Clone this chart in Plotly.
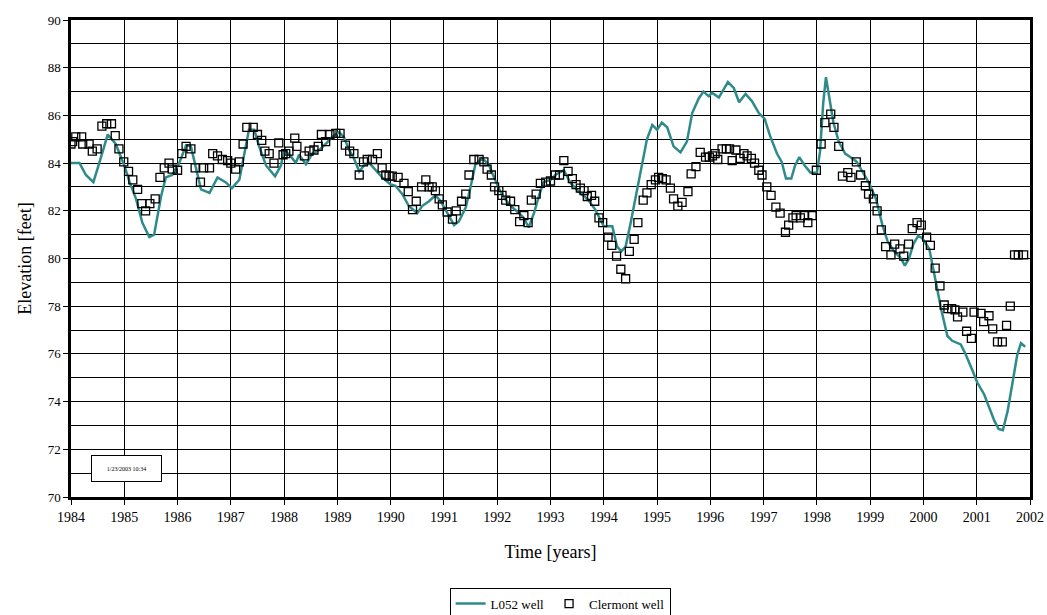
import plotly.graph_objects as go

# L052 well water level (decimal year, elevation in feet)
l052_year = [
    1984.00, 1984.16, 1984.28, 1984.42, 1984.53, 1984.69, 1984.84, 1985.00, 1985.10, 1985.22,
    1985.34, 1985.47, 1985.56, 1985.69, 1985.78, 1985.90, 1986.03, 1986.16, 1986.25, 1986.34,
    1986.44, 1986.60, 1986.75, 1986.90, 1987.02, 1987.16, 1987.25, 1987.34, 1987.44, 1987.53,
    1987.66, 1987.83, 1987.94, 1988.00, 1988.12, 1988.22, 1988.28, 1988.41, 1988.53, 1988.66,
    1988.78, 1988.90, 1989.03, 1989.12, 1989.22, 1989.31, 1989.41, 1989.50, 1989.60, 1989.72,
    1989.84, 1990.00, 1990.09, 1990.22, 1990.34, 1990.50, 1990.59, 1990.72, 1990.84, 1990.94,
    1991.06, 1991.19, 1991.28, 1991.41, 1991.50, 1991.59, 1991.72, 1991.84, 1991.94, 1992.06,
    1992.16, 1992.28, 1992.41, 1992.50, 1992.59, 1992.69, 1992.78, 1992.87, 1993.00, 1993.09,
    1993.25, 1993.38, 1993.53, 1993.69, 1993.84, 1994.00, 1994.16, 1994.25, 1994.33, 1994.41,
    1994.50, 1994.59, 1994.72, 1994.81, 1994.91, 1995.00, 1995.09, 1995.19, 1995.31, 1995.44,
    1995.56, 1995.66, 1995.78, 1995.87, 1995.97, 1996.03, 1996.16, 1996.25, 1996.33, 1996.44,
    1996.54, 1996.66, 1996.78, 1996.91, 1997.02, 1997.12, 1997.25, 1997.34, 1997.42, 1997.52,
    1997.59, 1997.67, 1997.77, 1997.88, 1998.00, 1998.06, 1998.12, 1998.17, 1998.22, 1998.31,
    1998.41, 1998.53, 1998.66, 1998.75, 1998.84, 1998.97, 1999.11, 1999.23, 1999.33, 1999.45,
    1999.58, 1999.65, 1999.73, 1999.81, 1999.90, 1999.98, 2000.11, 2000.23, 2000.34, 2000.45,
    2000.54, 2000.70, 2000.79, 2000.92, 2001.01, 2001.14, 2001.23, 2001.33, 2001.41, 2001.49,
    2001.58, 2001.68, 2001.76, 2001.83, 2001.91,
]
l052_elev = [
    84.0, 84.0, 83.5, 83.2, 84.0, 85.2, 84.8, 83.9, 83.2, 82.5,
    81.5, 80.9, 81.0, 82.6, 83.4, 83.5, 84.0, 84.75, 84.7, 83.85,
    82.9, 82.75, 83.4, 83.2, 82.95, 83.3, 84.3, 85.4, 85.4, 84.7,
    83.9, 83.45, 83.9, 84.55, 84.3, 84.0, 84.35, 83.95, 84.4, 84.55,
    84.8, 85.1, 85.3, 85.1, 84.55, 84.2, 83.65, 83.9, 84.0, 83.7,
    83.4, 83.1, 83.05, 82.7, 82.2, 81.9, 82.2, 82.4, 82.65, 82.4,
    81.9, 81.4, 81.55, 82.15, 83.0, 83.95, 84.2, 83.95, 83.4, 82.8,
    82.45, 82.15, 81.9, 81.7, 81.3, 81.9, 82.6, 83.2, 83.3, 83.5,
    83.7, 83.15, 82.8, 82.5, 82.05, 81.35, 81.35, 80.5, 80.3, 80.5,
    81.45, 82.5, 83.9, 85.0, 85.6, 85.4, 85.7, 85.5, 84.7, 84.45,
    84.9, 86.1, 86.7, 87.0, 86.8, 86.95, 86.75, 87.1, 87.4, 87.15,
    86.55, 86.9, 86.6, 86.1, 85.85, 85.15, 84.4, 84.05, 83.35, 83.35,
    83.9, 84.25, 83.9, 83.6, 83.6, 84.5, 86.55, 87.6, 86.95, 85.7,
    84.9, 84.4, 84.2, 84.05, 83.7, 83.2, 82.5, 81.4, 80.7, 80.3,
    80.0, 79.7, 80.0, 80.6, 80.95, 80.85, 80.4, 79.0, 77.8, 76.75,
    76.55, 76.4, 76.0, 75.3, 74.8, 74.3, 73.8, 73.2, 72.85, 72.8,
    73.6, 74.85, 75.95, 76.45, 76.3,
]

# Clermont well observations (decimal year, elevation in feet)
clermont_year = [
    1984.00, 1984.03, 1984.09, 1984.20, 1984.22, 1984.34, 1984.40, 1984.49, 1984.58, 1984.67,
    1984.76, 1984.83, 1984.90, 1984.99, 1985.08, 1985.16, 1985.25, 1985.33, 1985.40, 1985.48,
    1985.58, 1985.67, 1985.75, 1985.84, 1985.90, 1986.00, 1986.08, 1986.16, 1986.25, 1986.33,
    1986.43, 1986.49, 1986.60, 1986.66, 1986.75, 1986.84, 1986.94, 1987.00, 1987.09, 1987.16,
    1987.23, 1987.30, 1987.42, 1987.50, 1987.58, 1987.64, 1987.72, 1987.81, 1987.90, 1987.98,
    1988.03, 1988.09, 1988.20, 1988.24, 1988.38, 1988.47, 1988.56, 1988.64, 1988.70, 1988.78,
    1988.86, 1988.97, 1989.05, 1989.15, 1989.23, 1989.31, 1989.41, 1989.49, 1989.56, 1989.66,
    1989.75, 1989.84, 1989.91, 1989.97, 1990.03, 1990.14, 1990.25, 1990.33, 1990.41, 1990.48,
    1990.58, 1990.66, 1990.72, 1990.78, 1990.84, 1990.91, 1990.97, 1991.06, 1991.16, 1991.23,
    1991.33, 1991.41, 1991.47, 1991.56, 1991.66, 1991.75, 1991.81, 1991.89, 1991.95, 1992.03,
    1992.09, 1992.16, 1992.25, 1992.33, 1992.42, 1992.50, 1992.58, 1992.64, 1992.73, 1992.81,
    1992.91, 1993.00, 1993.09, 1993.17, 1993.25, 1993.33, 1993.41, 1993.48, 1993.56, 1993.63,
    1993.69, 1993.77, 1993.83, 1993.91, 1993.98, 1994.08, 1994.15, 1994.24, 1994.32, 1994.41,
    1994.48, 1994.57, 1994.64, 1994.74, 1994.81, 1994.89, 1994.97, 1995.03, 1995.10, 1995.17,
    1995.25, 1995.31, 1995.39, 1995.47, 1995.58, 1995.64, 1995.73, 1995.81, 1995.91, 1995.98,
    1996.04, 1996.09, 1996.14, 1996.22, 1996.30, 1996.36, 1996.41, 1996.48, 1996.56, 1996.63,
    1996.69, 1996.77, 1996.83, 1996.91, 1996.97, 1997.06, 1997.14, 1997.23, 1997.31, 1997.41,
    1997.47, 1997.55, 1997.61, 1997.69, 1997.77, 1997.83, 1997.91, 1997.99, 1998.08, 1998.15,
    1998.26, 1998.32, 1998.41, 1998.48, 1998.58, 1998.64, 1998.74, 1998.82, 1998.91, 1998.97,
    1999.06, 1999.13, 1999.21, 1999.29, 1999.39, 1999.46, 1999.56, 1999.63, 1999.72, 1999.79,
    1999.88, 1999.96, 2000.06, 2000.13, 2000.22, 2000.31, 2000.39, 2000.46, 2000.53, 2000.59,
    2000.64, 2000.74, 2000.81, 2000.90, 2000.95, 2001.08, 2001.13, 2001.23, 2001.30, 2001.39,
    2001.48, 2001.56, 2001.63, 2001.71, 2001.78, 2001.88,
]
clermont_elev = [
    84.8, 84.9, 85.1, 85.1, 84.8, 84.8, 84.5, 84.6, 85.55, 85.65,
    85.65, 85.15, 84.6, 84.05, 83.65, 83.3, 82.9, 82.3, 82.0, 82.3,
    82.5, 83.4, 83.8, 84.0, 83.75, 83.7, 84.4, 84.7, 84.6, 83.8,
    83.2, 83.8, 83.8, 84.4, 84.3, 84.15, 84.1, 84.0, 83.75, 84.05,
    84.8, 85.5, 85.5, 85.2, 84.95, 84.5, 84.4, 84.0, 84.85, 84.35,
    84.4, 84.5, 85.05, 84.7, 84.3, 84.5, 84.55, 84.7, 85.2, 84.9,
    85.2, 85.25, 85.25, 84.75, 84.5, 84.4, 83.5, 84.05, 84.15, 84.15,
    84.4, 83.8, 83.5, 83.45, 83.45, 83.4, 83.15, 82.8, 82.05, 82.4,
    83.0, 83.3, 83.0, 83.0, 82.85, 82.5, 82.25, 81.95, 81.65, 82.0,
    82.4, 82.7, 83.5, 84.15, 84.15, 84.05, 83.75, 83.5, 83.0, 82.85,
    82.65, 82.45, 82.4, 82.05, 81.55, 81.8, 81.5, 82.45, 82.7, 83.15,
    83.2, 83.25, 83.5, 83.5, 84.1, 83.65, 83.35, 83.1, 82.95, 82.85,
    82.6, 82.65, 82.4, 81.7, 81.5, 80.9, 80.55, 80.1, 79.55, 79.15,
    80.3, 80.8, 81.5, 82.45, 82.75, 83.1, 83.3, 83.4, 83.35, 83.3,
    82.95, 82.5, 82.2, 82.35, 82.8, 83.55, 83.85, 84.45, 84.25, 84.25,
    84.3, 84.4, 84.15, 84.6, 84.6, 84.6, 84.1, 84.55, 84.2, 84.4,
    84.3, 84.2, 84.0, 83.7, 83.5, 83.0, 82.65, 82.15, 81.9, 81.1,
    81.4, 81.7, 81.8, 81.7, 81.8, 81.5, 81.8, 83.7, 84.8, 85.7,
    86.05, 85.5, 84.7, 83.45, 83.6, 83.4, 84.05, 83.5, 83.05, 82.7,
    82.5, 82.0, 81.2, 80.5, 80.15, 80.6, 80.4, 80.1, 80.6, 81.25,
    81.5, 81.4, 80.9, 80.55, 79.6, 78.85, 78.05, 77.9, 77.9, 77.85,
    77.55, 77.75, 76.95, 76.65, 77.75, 77.7, 77.35, 77.6, 77.05, 76.5,
    76.5, 77.2, 78.0, 80.15, 80.15, 80.15,
]

year_ticks = list(range(1984, 2003))
serif = "Liberation Serif, Times New Roman, serif"

fig = go.Figure()

fig.add_trace(go.Scatter(
    x=l052_year, y=l052_elev, mode="lines", name="L052 well",
    line=dict(color="#2E8B8B", width=2.5),
))
fig.add_trace(go.Scatter(
    x=clermont_year, y=clermont_elev, mode="markers", name="Clermont well",
    marker=dict(symbol="square-open", size=8, color="black", line=dict(width=1.3)),
))

# timestamp box in the lower-left corner of the plot
fig.add_annotation(
    x=1985.05, y=71.2, xref="x", yref="y",
    text="1/23/2003 10:34", showarrow=False,
    font=dict(family=serif, size=6, color="black"),
    width=63, height=19, borderpad=3,
    bordercolor="black", borderwidth=1, bgcolor="white",
)

fig.update_layout(
    width=1047, height=615,
    margin=dict(l=71, r=17, t=20, b=118, autoexpand=False),
    paper_bgcolor="white", plot_bgcolor="white",
    font=dict(family=serif, color="black", size=12),
    showlegend=True,
    legend=dict(
        orientation="h", x=0.51, xanchor="center", y=-0.19, yanchor="top",
        bordercolor="black", borderwidth=1, bgcolor="white",
        font=dict(family=serif, size=13), itemwidth=30,
        tracegroupgap=0,
    ),
    xaxis=dict(
        range=[1984, 2002], tickmode="array", tickvals=year_ticks,
        ticktext=[str(y) for y in year_ticks],
        showgrid=True, gridcolor="black", gridwidth=1.3,
        showline=True, linecolor="black", linewidth=2.5, mirror=True,
        ticks="outside", ticklen=5, tickwidth=1.3, tickcolor="black",
        tickfont=dict(family=serif, size=14),
        title=dict(text="Time [years]", font=dict(family=serif, size=18), standoff=22),
        zeroline=False,
    ),
    yaxis=dict(
        range=[70, 90], dtick=2, tick0=70,
        showgrid=True, gridcolor="black", gridwidth=1.3,
        minor=dict(dtick=1, tick0=70, showgrid=True, gridcolor="black", gridwidth=1.3),
        showline=True, linecolor="black", linewidth=2.5, mirror=True,
        ticks="outside", ticklen=5, tickwidth=1.3, tickcolor="black",
        tickfont=dict(family=serif, size=13),
        title=dict(text="Elevation [feet]", font=dict(family=serif, size=18), standoff=12),
        zeroline=False,
    ),
)

fig.write_html("out.html")
